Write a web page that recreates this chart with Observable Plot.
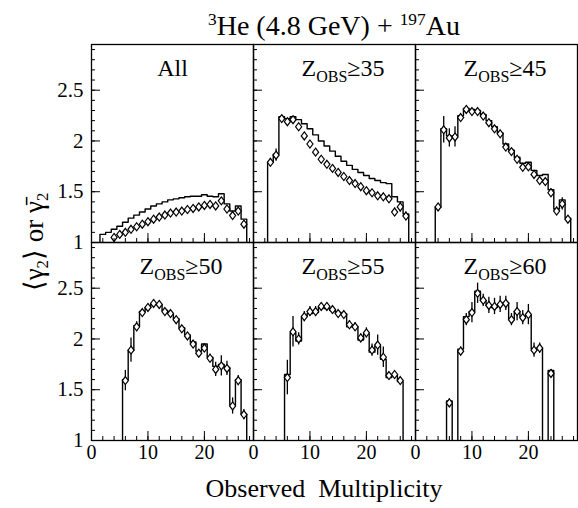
<!DOCTYPE html>
<html><head><meta charset="utf-8">
<script src="https://cdn.jsdelivr.net/npm/d3@7"></script>
<script src="https://cdn.jsdelivr.net/npm/@observablehq/plot@0.6"></script>
<style>
body{margin:0;background:#fff}
#wrap{position:relative;width:578px;height:508px;font-family:"Liberation Serif","Times New Roman",serif;color:#000;background:#fff}
.lbl{position:absolute;white-space:nowrap;line-height:1}
.sup{font-size:0.62em;position:relative;top:-0.55em}
.sub{font-size:0.62em;position:relative;top:0.3em}
</style></head>
<body><div id="wrap">
<div id="chart"></div>
<div class="lbl" style="left:90px;width:488px;top:12px;text-align:center;font-size:28px"><span class="sup">3</span>He (4.8 GeV) + <span class="sup">197</span>Au</div>
<div class="lbl" style="left:80px;width:488px;top:476px;text-align:center;font-size:26px">Observed&nbsp; Multiplicity</div>
<div class="lbl" style="left:34px;top:242px;font-size:27px;transform:translate(-50%,-50%) rotate(-90deg)">⟨γ<span class="sub">2</span>⟩ or γ&#x0304;<span class="sub">2</span></div>
</div>
<script>
// ---- data ----
const panelLabels = ["All", "Z_OBS≥35", "Z_OBS≥45", "Z_OBS≥50", "Z_OBS≥55", "Z_OBS≥60"];
const histFirst = [2, 3, 4, 6, 6, 6];   // first multiplicity bin of each histogram
const ptsFirst  = [4, 3, 4, 6, 6, 6];   // first multiplicity of each diamond series

const histAll = [1.08,1.10,1.13,1.16,1.20,1.24,1.27,1.30,1.33,1.36,1.38,1.40,1.42,1.43,1.44,1.45,1.455,1.455,1.47,1.455,1.45,1.48,1.38,1.31,1.36,1.23];
const hist35  = [1.79,1.87,2.24,2.22,2.24,2.21,2.17,2.12,2.06,2.00,1.95,1.90,1.85,1.80,1.76,1.72,1.69,1.66,1.63,1.61,1.59,1.58,1.45,1.40,1.28];
const hist45  = [1.35,2.12,2.05,2.05,2.25,2.32,2.31,2.30,2.26,2.20,2.14,2.08,1.97,1.91,1.84,1.78,1.79,1.71,1.66,1.67,1.52,1.33,1.42,1.24];
const hist50  = [1.60,1.89,2.13,2.27,2.31,2.35,2.34,2.28,2.25,2.20,2.11,2.04,1.97,1.88,1.95,1.82,1.73,1.75,1.72,1.35,1.60,1.26];
const hist55  = [1.65,2.06,1.98,2.22,2.25,2.26,2.31,2.30,2.28,2.26,2.25,2.12,2.12,1.99,2.05,1.87,1.93,1.80,1.62,1.64,1.58];
const hist60  = [1.39,0,1.90,2.22,2.27,2.47,2.38,2.33,2.31,2.34,2.36,2.20,2.27,2.22,2.24,1.90,1.91,0,1.69];

const ptsAll = [1.05,1.08,1.10,1.13,1.155,1.18,1.205,1.23,1.25,1.27,1.29,1.30,1.31,1.325,1.335,1.35,1.365,1.375,1.36,1.41,1.33,1.265,1.31,1.18];
const pts35  = [1.79,1.86,2.22,2.19,2.21,2.14,2.05,1.97,1.89,1.82,1.77,1.73,1.69,1.65,1.61,1.58,1.55,1.51,1.49,1.46,1.45,1.43,1.30,1.35,1.26];
const pts45  = [1.35,2.11,2.03,2.04,2.23,2.31,2.29,2.29,2.245,2.18,2.12,2.07,1.94,1.895,1.82,1.74,1.745,1.67,1.61,1.60,1.49,1.31,1.38,1.23];
const pts50  = [1.59,1.89,2.12,2.26,2.31,2.35,2.34,2.27,2.25,2.19,2.10,2.03,1.95,1.86,1.91,1.81,1.70,1.735,1.71,1.34,1.59,1.255];
const pts55  = [1.62,2.07,2.00,2.22,2.27,2.27,2.32,2.32,2.29,2.25,2.24,2.14,2.12,2.01,2.06,1.89,1.94,1.82,1.64,1.65,1.59];
const pts60  = [1.37,null,1.88,2.19,2.26,2.45,2.38,2.33,2.32,2.34,2.35,2.19,2.27,2.21,2.24,1.89,1.91,null,1.66];

const errAll = [0.01,0.01,0.01,0.01,0.01,0.01,0.01,0.01,0.01,0.01,0.01,0.01,0.01,0.01,0.01,0.01,0.01,0.01,0.015,0.02,0.02,0.02,0.03,0.03];
const err35  = [0.03,0.06,0.02,0.015,0.015,0.015,0.015,0.015,0.015,0.015,0.015,0.015,0.015,0.015,0.015,0.015,0.015,0.015,0.015,0.02,0.02,0.03,0.04,0.05,0.04];
const err45  = [0.03,0.13,0.09,0.10,0.03,0.02,0.02,0.02,0.02,0.02,0.02,0.02,0.02,0.02,0.02,0.02,0.02,0.03,0.03,0.03,0.04,0.04,0.06,0.03];
const err50  = [0.10,0.12,0.05,0.03,0.03,0.03,0.03,0.02,0.02,0.02,0.02,0.02,0.03,0.03,0.04,0.04,0.07,0.10,0.07,0.08,0.05,0.05];
const err55  = [0.17,0.15,0.06,0.05,0.05,0.05,0.03,0.03,0.03,0.03,0.03,0.04,0.04,0.04,0.05,0.06,0.10,0.10,0.03,0.03,0.03];
const err60  = [0.04,null,0.04,0.06,0.10,0.10,0.06,0.08,0.08,0.08,0.07,0.06,0.09,0.07,0.10,0.07,0.05,null,0.04];

const xTickLabels = [0, 10, 20];
const yTickLabels = [1, 1.5, 2, 2.5];

// ---- tables built from the arrays ----
const hists = [histAll, hist35, hist45, hist50, hist55, hist60];
const ptsList = [ptsAll, pts35, pts45, pts50, pts55, pts60];
const errList = [errAll, err35, err45, err50, err55, err60];
const outline = [], points = [], labels = [];
panelLabels.forEach((label, p) => {
  const col = p % 3, row = Math.floor(p / 3);
  labels.push({col, row, label});
  const h = hists[p], m0 = histFirst[p];
  outline.push({col, row, x: m0 - 0.5, y: 0});
  h.forEach((v, i) => outline.push({col, row, x: m0 + i - 0.5, y: v}));
  outline.push({col, row, x: m0 + h.length - 0.5, y: 0});
  ptsList[p].forEach((v, i) => {
    if (v != null) points.push({col, row, m: ptsFirst[p] + i, v, e: errList[p][i]});
  });
});

const tallDiamond = {draw(ctx, size) {
  const r = Math.sqrt(size / Math.PI), w = r * 0.76;
  ctx.moveTo(0, -r); ctx.lineTo(w, 0); ctx.lineTo(0, r); ctx.lineTo(-w, 0); ctx.closePath();
}};

const F = "Liberation Serif, Times New Roman, serif";
const chart = Plot.plot({
  width: 578, height: 508,
  marginLeft: 90, marginRight: 1, marginTop: 44, marginBottom: 68,
  style: {fontFamily: F, fontSize: "20px", color: "black", background: "white"},
  fx: {domain: [0, 1, 2], padding: 0, axis: null},
  fy: {domain: [0, 1], padding: 0, axis: null},
  x: {domain: [0, 28.7], label: null},
  y: {domain: [1, 2.95], label: null},
  marks: [
    Plot.line(outline, {fx: "col", fy: "row", x: "x", y: "y", curve: "step-after", stroke: "black", strokeWidth: 1.4, clip: true}),
    Plot.ruleX(points, {fx: "col", fy: "row", x: "m", y1: d => d.v - d.e, y2: d => d.v + d.e, stroke: "black", strokeWidth: 1.3, clip: true}),
    Plot.dot(points, {fx: "col", fy: "row", x: "m", y: "v", symbol: tallDiamond, r: 4, fill: "white", stroke: "black", strokeWidth: 1.2}),
    Plot.frame({stroke: "black", strokeWidth: 1.3}),
    Plot.axisX({ticks: d3.range(0, 28.7, 2), tickSize: -4, text: null, facetAnchor: null, strokeWidth: 1}),
    Plot.axisX({ticks: xTickLabels, tickSize: -9, text: null, facetAnchor: null, strokeWidth: 1}),
    Plot.axisX({ticks: xTickLabels, tickSize: 0, tickPadding: 4, fontSize: 20, tickFormat: d => String(d), label: null}),
    Plot.axisY({ticks: d3.range(1, 2.951, 0.1), tickSize: -4, text: null, facetAnchor: null, strokeWidth: 1}),
    Plot.axisY({ticks: yTickLabels, tickSize: -9, text: null, facetAnchor: null, strokeWidth: 1}),
    Plot.axisY({ticks: yTickLabels, tickSize: 0, tickPadding: 8, fontSize: 21, tickFormat: d => String(d), label: null}),
    Plot.text(labels.filter(d => d.label === "All"), {fx: "col", fy: "row", text: "label", frameAnchor: "top", dy: 14, fontSize: 24}),
    Plot.text(labels.filter(d => d.label !== "All"), {fx: "col", fy: "row", text: "label", frameAnchor: "top-left", textAnchor: "start", dx: 48, dy: 14, fontSize: 24})
  ]
});
document.getElementById("chart").appendChild(chart);

// subscript "OBS" in panel labels
chart.querySelectorAll("text").forEach(t => {
  const s = t.textContent;
  if (s.startsWith("Z_OBS")) {
    const rest = s.slice(5);
    while (t.firstChild) t.removeChild(t.firstChild);
    const ns = "http://www.w3.org/2000/svg";
    const a = document.createElementNS(ns, "tspan"); a.textContent = "Z";
    const b = document.createElementNS(ns, "tspan"); b.textContent = "OBS"; b.setAttribute("font-size", "16"); b.setAttribute("dy", "6");
    const c = document.createElementNS(ns, "tspan"); c.textContent = rest; c.setAttribute("dy", "-6");
    t.append(a, b, c);
  }
});
</script>
</body></html>
